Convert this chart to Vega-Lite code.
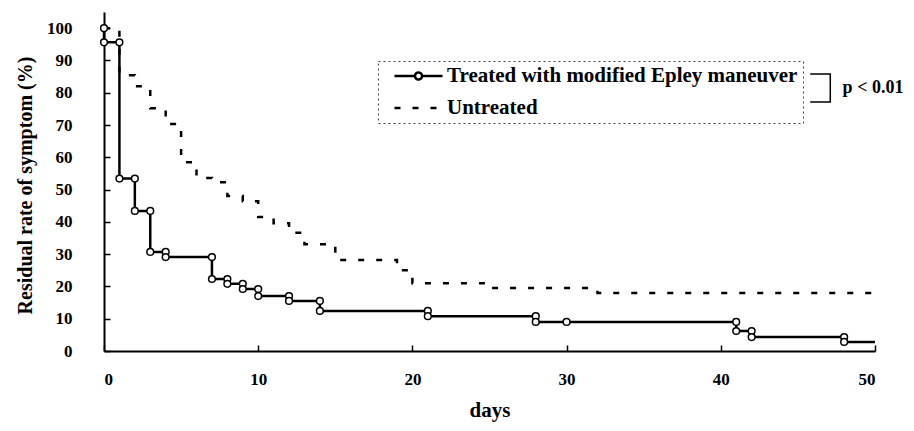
{
  "$schema": "https://vega.github.io/schema/vega-lite/v6.json",
  "width": 771,
  "height": 339,
  "autosize": {"type": "none"},
  "padding": {"left": 104, "top": 12, "right": 39, "bottom": 80},
  "background": "white",
  "config": {
    "view": {"stroke": null},
    "font": "Liberation Serif",
    "axis": {
      "grid": false,
      "domainColor": "black",
      "domainWidth": 2,
      "tickColor": "black",
      "tickWidth": 1.5,
      "tickSize": -6,
      "labelOverlap": false,
      "labelFont": "Liberation Serif",
      "labelFontWeight": "bold",
      "labelFontSize": 17,
      "labelColor": "black",
      "titleFont": "Liberation Serif",
      "titleFontWeight": "bold",
      "titleColor": "black"
    }
  },
  "datasets": {
    "curves": [
      {"g": "Treated with modified Epley maneuver", "i": 0, "d": 0, "v": 100, "m": 1},
      {"g": "Treated with modified Epley maneuver", "i": 1, "d": 0, "v": 95.6, "m": 1},
      {"g": "Treated with modified Epley maneuver", "i": 2, "d": 1, "v": 95.6, "m": 1},
      {"g": "Treated with modified Epley maneuver", "i": 3, "d": 1, "v": 53.4, "m": 1},
      {"g": "Treated with modified Epley maneuver", "i": 4, "d": 2, "v": 53.4, "m": 1},
      {"g": "Treated with modified Epley maneuver", "i": 5, "d": 2, "v": 43.4, "m": 1},
      {"g": "Treated with modified Epley maneuver", "i": 6, "d": 3, "v": 43.4, "m": 1},
      {"g": "Treated with modified Epley maneuver", "i": 7, "d": 3, "v": 30.7, "m": 1},
      {"g": "Treated with modified Epley maneuver", "i": 8, "d": 4, "v": 30.7, "m": 1},
      {"g": "Treated with modified Epley maneuver", "i": 9, "d": 4, "v": 29.1, "m": 1},
      {"g": "Treated with modified Epley maneuver", "i": 10, "d": 7, "v": 29.1, "m": 1},
      {"g": "Treated with modified Epley maneuver", "i": 11, "d": 7, "v": 22.3, "m": 1},
      {"g": "Treated with modified Epley maneuver", "i": 12, "d": 8, "v": 22.3, "m": 1},
      {"g": "Treated with modified Epley maneuver", "i": 13, "d": 8, "v": 20.8, "m": 1},
      {"g": "Treated with modified Epley maneuver", "i": 14, "d": 9, "v": 20.8, "m": 1},
      {"g": "Treated with modified Epley maneuver", "i": 15, "d": 9, "v": 19.2, "m": 1},
      {"g": "Treated with modified Epley maneuver", "i": 16, "d": 10, "v": 19.2, "m": 1},
      {"g": "Treated with modified Epley maneuver", "i": 17, "d": 10, "v": 17.0, "m": 1},
      {"g": "Treated with modified Epley maneuver", "i": 18, "d": 12, "v": 17.0, "m": 1},
      {"g": "Treated with modified Epley maneuver", "i": 19, "d": 12, "v": 15.5, "m": 1},
      {"g": "Treated with modified Epley maneuver", "i": 20, "d": 14, "v": 15.5, "m": 1},
      {"g": "Treated with modified Epley maneuver", "i": 21, "d": 14, "v": 12.4, "m": 1},
      {"g": "Treated with modified Epley maneuver", "i": 22, "d": 21, "v": 12.4, "m": 1},
      {"g": "Treated with modified Epley maneuver", "i": 23, "d": 21, "v": 10.8, "m": 1},
      {"g": "Treated with modified Epley maneuver", "i": 24, "d": 28, "v": 10.8, "m": 1},
      {"g": "Treated with modified Epley maneuver", "i": 25, "d": 28, "v": 9.0, "m": 1},
      {"g": "Treated with modified Epley maneuver", "i": 26, "d": 30, "v": 9.0, "m": 1},
      {"g": "Treated with modified Epley maneuver", "i": 27, "d": 41, "v": 9.0, "m": 1},
      {"g": "Treated with modified Epley maneuver", "i": 28, "d": 41, "v": 6.2, "m": 1},
      {"g": "Treated with modified Epley maneuver", "i": 29, "d": 42, "v": 6.2, "m": 1},
      {"g": "Treated with modified Epley maneuver", "i": 30, "d": 42, "v": 4.3, "m": 1},
      {"g": "Treated with modified Epley maneuver", "i": 31, "d": 48, "v": 4.3, "m": 1},
      {"g": "Treated with modified Epley maneuver", "i": 32, "d": 48, "v": 2.8, "m": 1},
      {"g": "Treated with modified Epley maneuver", "i": 33, "d": 50, "v": 2.8, "m": 0},
      {"g": "Untreated", "i": 0, "d": 0, "v": 100, "m": 0},
      {"g": "Untreated", "i": 1, "d": 1, "v": 100, "m": 0},
      {"g": "Untreated", "i": 2, "d": 1, "v": 85.4, "m": 0},
      {"g": "Untreated", "i": 3, "d": 2, "v": 85.4, "m": 0},
      {"g": "Untreated", "i": 4, "d": 2, "v": 82.0, "m": 0},
      {"g": "Untreated", "i": 5, "d": 3, "v": 82.0, "m": 0},
      {"g": "Untreated", "i": 6, "d": 3, "v": 75.2, "m": 0},
      {"g": "Untreated", "i": 7, "d": 4, "v": 75.2, "m": 0},
      {"g": "Untreated", "i": 8, "d": 4, "v": 70.3, "m": 0},
      {"g": "Untreated", "i": 9, "d": 5, "v": 70.3, "m": 0},
      {"g": "Untreated", "i": 10, "d": 5, "v": 58.5, "m": 0},
      {"g": "Untreated", "i": 11, "d": 6, "v": 58.5, "m": 0},
      {"g": "Untreated", "i": 12, "d": 6, "v": 53.6, "m": 0},
      {"g": "Untreated", "i": 13, "d": 7, "v": 53.6, "m": 0},
      {"g": "Untreated", "i": 14, "d": 7, "v": 52.3, "m": 0},
      {"g": "Untreated", "i": 15, "d": 8, "v": 52.3, "m": 0},
      {"g": "Untreated", "i": 16, "d": 8, "v": 48.0, "m": 0},
      {"g": "Untreated", "i": 17, "d": 9, "v": 48.0, "m": 0},
      {"g": "Untreated", "i": 18, "d": 9, "v": 46.4, "m": 0},
      {"g": "Untreated", "i": 19, "d": 10, "v": 46.4, "m": 0},
      {"g": "Untreated", "i": 20, "d": 10, "v": 41.5, "m": 0},
      {"g": "Untreated", "i": 21, "d": 11, "v": 41.5, "m": 0},
      {"g": "Untreated", "i": 22, "d": 11, "v": 39.6, "m": 0},
      {"g": "Untreated", "i": 23, "d": 12, "v": 39.6, "m": 0},
      {"g": "Untreated", "i": 24, "d": 12, "v": 36.6, "m": 0},
      {"g": "Untreated", "i": 25, "d": 13, "v": 36.6, "m": 0},
      {"g": "Untreated", "i": 26, "d": 13, "v": 33.1, "m": 0},
      {"g": "Untreated", "i": 27, "d": 15, "v": 33.1, "m": 0},
      {"g": "Untreated", "i": 28, "d": 15, "v": 28.2, "m": 0},
      {"g": "Untreated", "i": 29, "d": 19, "v": 28.2, "m": 0},
      {"g": "Untreated", "i": 30, "d": 19, "v": 25.0, "m": 0},
      {"g": "Untreated", "i": 31, "d": 20, "v": 25.0, "m": 0},
      {"g": "Untreated", "i": 32, "d": 20, "v": 21.0, "m": 0},
      {"g": "Untreated", "i": 33, "d": 25, "v": 21.0, "m": 0},
      {"g": "Untreated", "i": 34, "d": 25, "v": 19.5, "m": 0},
      {"g": "Untreated", "i": 35, "d": 32, "v": 19.5, "m": 0},
      {"g": "Untreated", "i": 36, "d": 32, "v": 18.0, "m": 0},
      {"g": "Untreated", "i": 37, "d": 50, "v": 18.0, "m": 0}
    ],
    "bracket": [
      {"i": 0, "d": 45.8, "v": 85.8},
      {"i": 1, "d": 47.1, "v": 85.8},
      {"i": 2, "d": 47.1, "v": 77.1},
      {"i": 3, "d": 45.8, "v": 77.1}
    ],
    "note": [
      {"d": 47.9, "v": 81.6, "t": "p < 0.01"}
    ]
  },
  "layer": [
    {
      "data": {"name": "curves"},
      "mark": {"type": "line", "color": "black", "strokeWidth": 2.5, "strokeCap": "butt"},
      "encoding": {
        "x": {
          "field": "d", "type": "quantitative",
          "scale": {"domain": [0, 50], "nice": false},
          "axis": {
            "values": [0, 10, 20, 30, 40, 50],
            "title": "days",
            "titleFontSize": 21,
            "titleY": 59,
            "titleBaseline": "middle",
            "labelPadding": 34,
            "labelBaseline": "middle",
            "labelOverlap": false
          }
        },
        "y": {
          "field": "v", "type": "quantitative",
          "scale": {"domain": [0, 105], "nice": false},
          "axis": {
            "values": [0, 10, 20, 30, 40, 50, 60, 70, 80, 90, 100],
            "tickCount": 11,
            "labelOverlap": false,
            "labelSeparation": 0,
            "labelFlush": false,
            "title": "Residual rate of symptom (%)",
            "titleFontSize": 20,
            "titleX": -79,
            "titleY": 173,
            "titleAlign": "center",
            "titleBaseline": "middle",
            "labelPadding": 38
          }
        },
        "order": {"field": "i", "type": "quantitative"},
        "strokeDash": {
          "field": "g", "type": "nominal",
          "scale": {
            "domain": ["Treated with modified Epley maneuver", "Untreated"],
            "range": [[1, 0], [6, 12]]
          },
          "legend": {
            "title": null,
            "orient": "none",
            "legendX": 274,
            "legendY": 49,
            "padding": 5,
            "clipHeight": 20,
            "rowPadding": 11,
            "symbolSize": 2304,
            "symbolOffset": 10,
            "labelOffset": 3,
            "labelLimit": 0,
            "labelFont": "Liberation Serif",
            "labelFontWeight": "bold",
            "labelFontSize": 21,
            "labelColor": "black",
            "symbolStrokeColor": "black",
            "symbolStrokeWidth": 2.5,
            "encode": {
              "legend": {
                "update": {
                  "stroke": {"value": "#444"},
                  "strokeDash": {"value": [2, 3]},
                  "strokeWidth": {"value": 1}
                }
              },
              "symbols": {
                "update": {
                  "shape": {"signal": "datum.value === 'Untreated' ? 'M-1,0H1' : 'M-1,0H-0.146M0.146,0H1M0.146,0A0.146,0.146,0,1,1,-0.146,0A0.146,0.146,0,1,1,0.146,0'"},
                  "fill": {"value": "white"},
                  "stroke": {"value": "black"},
                  "strokeWidth": {"value": 2.5}
                }
              }
            }
          }
        }
      }
    },
    {
      "data": {"name": "curves"},
      "transform": [{"filter": "datum.m == 1"}],
      "mark": {"type": "point", "shape": "circle", "filled": true, "fill": "white", "stroke": "black", "strokeWidth": 1.5, "size": 45, "opacity": 1},
      "encoding": {
        "x": {"field": "d", "type": "quantitative"},
        "y": {"field": "v", "type": "quantitative"}
      }
    },
    {
      "data": {"name": "bracket"},
      "mark": {"type": "line", "color": "black", "strokeWidth": 1.5},
      "encoding": {
        "x": {"field": "d", "type": "quantitative"},
        "y": {"field": "v", "type": "quantitative"},
        "order": {"field": "i", "type": "quantitative"}
      }
    },
    {
      "data": {"name": "note"},
      "mark": {"type": "text", "font": "Liberation Serif", "fontWeight": "bold", "fontSize": 18, "align": "left", "baseline": "middle", "color": "black"},
      "encoding": {
        "x": {"field": "d", "type": "quantitative"},
        "y": {"field": "v", "type": "quantitative"},
        "text": {"field": "t"}
      }
    }
  ]
}
